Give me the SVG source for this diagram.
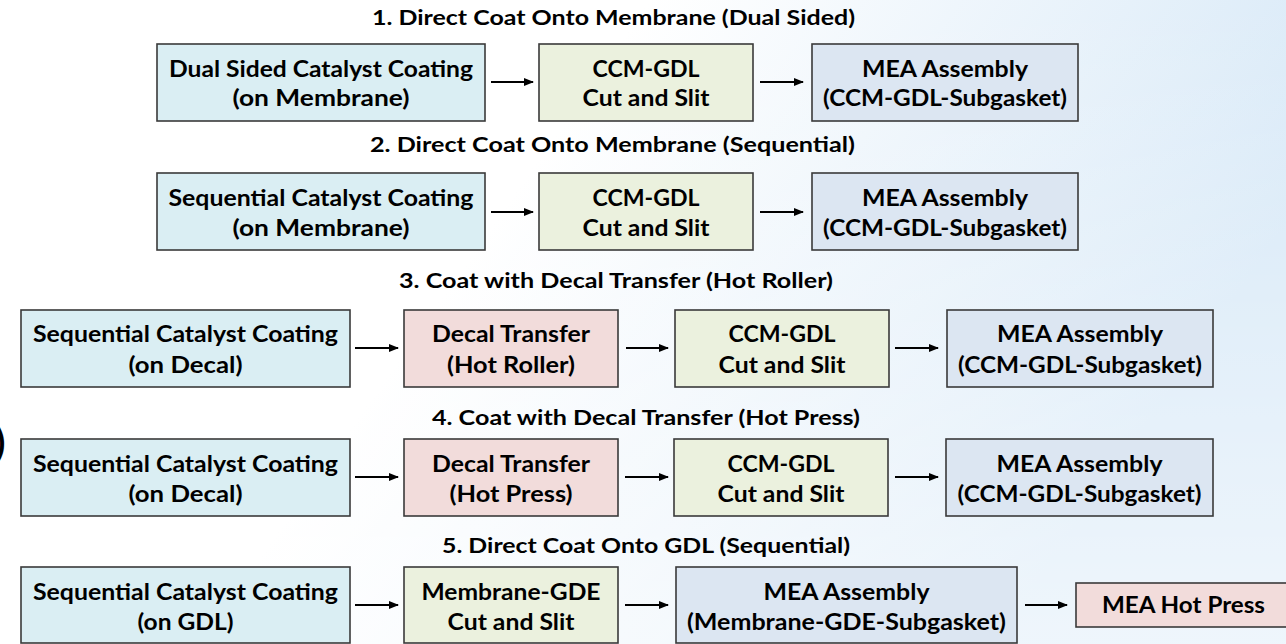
<svg xmlns="http://www.w3.org/2000/svg" width="1286" height="644" viewBox="0 0 1286 644">
<defs>
<linearGradient id="bg" x1="0" y1="0" x2="1" y2="0.35">
<stop offset="0.45" stop-color="#ffffff"/>
<stop offset="1" stop-color="#d6e8f7"/>
</linearGradient>
<linearGradient id="fade" x1="0" y1="0" x2="0" y2="1">
<stop offset="0" stop-color="#ffffff" stop-opacity="0"/>
<stop offset="1" stop-color="#ffffff" stop-opacity="0.6"/>
</linearGradient>
<marker id="ah" markerWidth="10" markerHeight="8" refX="9" refY="4" orient="auto" markerUnits="userSpaceOnUse">
<path d="M0,0 L10,4 L0,8 Z" fill="#000"/>
</marker>
<style>
.b{stroke:#3a3a3a;stroke-width:1.6}
.c1{fill:#daeef3}
.c2{fill:#ebf1de}
.c3{fill:#dce6f2}
.c4{fill:#f2dcdb}
text{font-family:Lato,"Open Sans","Liberation Sans",sans-serif;font-weight:bold;fill:#000;text-anchor:middle}
.t{font-size:23px}
.h{font-size:21px}
.a{stroke:#000;stroke-width:2;fill:none;marker-end:url(#ah)}
</style>
</defs>
<rect width="1286" height="644" fill="url(#bg)"/>
<rect width="1286" height="644" fill="url(#fade)"/>
<text x="-5" y="456" style="font-size:38px;text-anchor:start">)</text>

<g id="titles">
<text class="h" x="613.5" y="25" textLength="483" lengthAdjust="spacingAndGlyphs">1. Direct Coat Onto Membrane (Dual Sided)</text>
<text class="h" x="612.5" y="152" textLength="485" lengthAdjust="spacingAndGlyphs">2. Direct Coat Onto Membrane (Sequential)</text>
<text class="h" x="616" y="288" textLength="434" lengthAdjust="spacingAndGlyphs">3. Coat with Decal Transfer (Hot Roller)</text>
<text class="h" x="646" y="425" textLength="428" lengthAdjust="spacingAndGlyphs">4. Coat with Decal Transfer (Hot Press)</text>
<text class="h" x="646" y="553" textLength="408" lengthAdjust="spacingAndGlyphs">5. Direct Coat Onto GDL (Sequential)</text>
</g>

<g id="r1n1"><rect class="b c1" x="157" y="44" width="328" height="77"/>
<text class="t" x="321" y="77" textLength="304" lengthAdjust="spacingAndGlyphs">Dual Sided Catalyst Coating</text>
<text class="t" x="321" y="106" textLength="177" lengthAdjust="spacingAndGlyphs">(on Membrane)</text></g>
<g id="r1n2"><rect class="b c2" x="539" y="44" width="214" height="77"/>
<text class="t" x="646" y="77" textLength="107" lengthAdjust="spacingAndGlyphs">CCM-GDL</text>
<text class="t" x="646" y="106" textLength="127" lengthAdjust="spacingAndGlyphs">Cut and Slit</text></g>
<g id="r1n3"><rect class="b c3" x="812" y="44" width="266" height="77"/>
<text class="t" x="945" y="77" textLength="166" lengthAdjust="spacingAndGlyphs">MEA Assembly</text>
<text class="t" x="945" y="106" textLength="244" lengthAdjust="spacingAndGlyphs">(CCM-GDL-Subgasket)</text></g>

<g id="r2n1"><rect class="b c1" x="157" y="173" width="328" height="77"/>
<text class="t" x="321" y="206" textLength="305" lengthAdjust="spacingAndGlyphs">Sequential Catalyst Coating</text>
<text class="t" x="321" y="236" textLength="177" lengthAdjust="spacingAndGlyphs">(on Membrane)</text></g>
<g id="r2n2"><rect class="b c2" x="539" y="173" width="214" height="77"/>
<text class="t" x="646" y="206" textLength="107" lengthAdjust="spacingAndGlyphs">CCM-GDL</text>
<text class="t" x="646" y="236" textLength="127" lengthAdjust="spacingAndGlyphs">Cut and Slit</text></g>
<g id="r2n3"><rect class="b c3" x="812" y="173" width="266" height="77"/>
<text class="t" x="945" y="206" textLength="166" lengthAdjust="spacingAndGlyphs">MEA Assembly</text>
<text class="t" x="945" y="236" textLength="244" lengthAdjust="spacingAndGlyphs">(CCM-GDL-Subgasket)</text></g>

<g id="r3n1"><rect class="b c1" x="21" y="310" width="329" height="77"/>
<text class="t" x="185.5" y="342" textLength="305" lengthAdjust="spacingAndGlyphs">Sequential Catalyst Coating</text>
<text class="t" x="185.5" y="373" textLength="114" lengthAdjust="spacingAndGlyphs">(on Decal)</text></g>
<g id="r3n2"><rect class="b c4" x="404" y="310" width="214" height="77"/>
<text class="t" x="511" y="342" textLength="158" lengthAdjust="spacingAndGlyphs">Decal Transfer</text>
<text class="t" x="511" y="373" textLength="128" lengthAdjust="spacingAndGlyphs">(Hot Roller)</text></g>
<g id="r3n3"><rect class="b c2" x="675" y="310" width="214" height="77"/>
<text class="t" x="782" y="342" textLength="107" lengthAdjust="spacingAndGlyphs">CCM-GDL</text>
<text class="t" x="782" y="373" textLength="127" lengthAdjust="spacingAndGlyphs">Cut and Slit</text></g>
<g id="r3n4"><rect class="b c3" x="947" y="310" width="266" height="77"/>
<text class="t" x="1080" y="342" textLength="166" lengthAdjust="spacingAndGlyphs">MEA Assembly</text>
<text class="t" x="1080" y="373" textLength="244" lengthAdjust="spacingAndGlyphs">(CCM-GDL-Subgasket)</text></g>

<g id="r4n1"><rect class="b c1" x="21" y="439" width="329" height="77"/>
<text class="t" x="185.5" y="472" textLength="305" lengthAdjust="spacingAndGlyphs">Sequential Catalyst Coating</text>
<text class="t" x="185.5" y="502" textLength="114" lengthAdjust="spacingAndGlyphs">(on Decal)</text></g>
<g id="r4n2"><rect class="b c4" x="404" y="439" width="214" height="77"/>
<text class="t" x="511" y="472" textLength="158" lengthAdjust="spacingAndGlyphs">Decal Transfer</text>
<text class="t" x="511" y="502" textLength="123" lengthAdjust="spacingAndGlyphs">(Hot Press)</text></g>
<g id="r4n3"><rect class="b c2" x="674" y="439" width="214" height="77"/>
<text class="t" x="781" y="472" textLength="107" lengthAdjust="spacingAndGlyphs">CCM-GDL</text>
<text class="t" x="781" y="502" textLength="127" lengthAdjust="spacingAndGlyphs">Cut and Slit</text></g>
<g id="r4n4"><rect class="b c3" x="946" y="439" width="267" height="77"/>
<text class="t" x="1079.5" y="472" textLength="166" lengthAdjust="spacingAndGlyphs">MEA Assembly</text>
<text class="t" x="1079.5" y="502" textLength="244" lengthAdjust="spacingAndGlyphs">(CCM-GDL-Subgasket)</text></g>

<g id="r5n1"><rect class="b c1" x="21" y="567" width="329" height="76"/>
<text class="t" x="185.5" y="600" textLength="305" lengthAdjust="spacingAndGlyphs">Sequential Catalyst Coating</text>
<text class="t" x="185.5" y="630" textLength="96" lengthAdjust="spacingAndGlyphs">(on GDL)</text></g>
<g id="r5n2"><rect class="b c2" x="404" y="567" width="214" height="76"/>
<text class="t" x="511" y="600" textLength="179" lengthAdjust="spacingAndGlyphs">Membrane-GDE</text>
<text class="t" x="511" y="630" textLength="127" lengthAdjust="spacingAndGlyphs">Cut and Slit</text></g>
<g id="r5n3"><rect class="b c3" x="676" y="567" width="341" height="76"/>
<text class="t" x="846.5" y="600" textLength="166" lengthAdjust="spacingAndGlyphs">MEA Assembly</text>
<text class="t" x="846.5" y="630" textLength="319" lengthAdjust="spacingAndGlyphs">(Membrane-GDE-Subgasket)</text></g>
<g id="r5n4"><rect class="b c4" x="1076" y="583" width="220" height="44"/>
<text class="t" x="1183.5" y="613" textLength="163" lengthAdjust="spacingAndGlyphs">MEA Hot Press</text></g>

<g id="connectors">
<line class="a" x1="491" y1="82" x2="533" y2="82"/>
<line class="a" x1="760" y1="82" x2="803" y2="82"/>
<line class="a" x1="491" y1="212" x2="533" y2="212"/>
<line class="a" x1="760" y1="212" x2="803" y2="212"/>
<line class="a" x1="355" y1="348" x2="398" y2="348"/>
<line class="a" x1="626" y1="348" x2="668" y2="348"/>
<line class="a" x1="895" y1="348" x2="938" y2="348"/>
<line class="a" x1="355" y1="477" x2="398" y2="477"/>
<line class="a" x1="625" y1="477" x2="668" y2="477"/>
<line class="a" x1="895" y1="477" x2="938" y2="477"/>
<line class="a" x1="355" y1="605" x2="398" y2="605"/>
<line class="a" x1="625" y1="605" x2="668" y2="605"/>
<line class="a" x1="1025" y1="605" x2="1067" y2="605"/>
</g>
</svg>
